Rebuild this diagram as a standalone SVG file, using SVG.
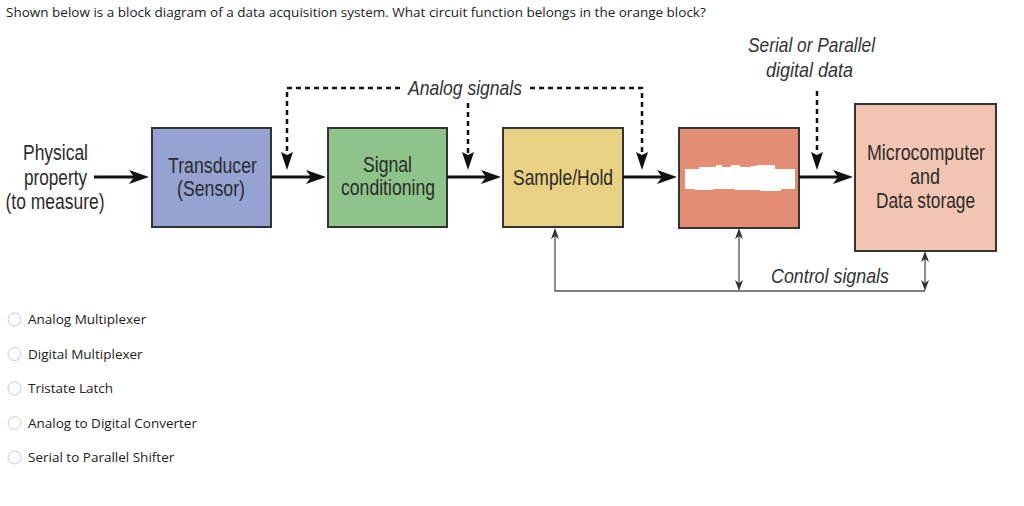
<svg xmlns="http://www.w3.org/2000/svg" width="1024" height="506" viewBox="0 0 1024 506">
<style>
.q{font-family:"Open Sans","Liberation Sans",sans-serif;font-size:13.5px;fill:#222}
.t{font-family:"Liberation Sans",Arial,sans-serif;font-size:22.5px;fill:#2b2b2b}
.it{font-family:"Liberation Sans",Arial,sans-serif;font-size:21px;font-style:italic;fill:#333}
.box{stroke:#333;stroke-width:2}
.main{stroke:#111;stroke-width:3;fill:none}
.dash{stroke:#111;stroke-width:2.5;stroke-dasharray:5 4;fill:none}
.ctl{stroke:#555;stroke-width:1.3;fill:none}
.radio{fill:#fff;stroke:#ccc;stroke-width:1}
</style>
<defs>
<marker id="big" markerUnits="userSpaceOnUse" markerWidth="20" markerHeight="14" viewBox="0 0 20 14" refX="11" refY="7" orient="auto"><path d="M0,0 L20,7 L0,14 L5,7 z" fill="#111"/></marker>
</defs>
<rect width="1024" height="506" fill="#fff"/>
<text class="q" x="6" y="17">Shown below is a block diagram of a data acquisition system. What circuit function belongs in the orange block?</text>

<g id="input-label">
<text class="t" x="55.5" y="160" text-anchor="middle" textLength="65" lengthAdjust="spacingAndGlyphs">Physical</text>
<text class="t" x="55.5" y="185" text-anchor="middle" textLength="63" lengthAdjust="spacingAndGlyphs">property</text>
<text class="t" x="55" y="209" text-anchor="middle" textLength="99" lengthAdjust="spacingAndGlyphs">(to measure)</text>
</g>

<g id="transducer">
<rect class="box" x="152" y="128" width="119" height="99" fill="#94a3d1"/>
<text class="t" x="212.5" y="173" text-anchor="middle" textLength="89" lengthAdjust="spacingAndGlyphs" fill="#262c4a">Transducer</text>
<text class="t" x="211" y="196" text-anchor="middle" textLength="68" lengthAdjust="spacingAndGlyphs" fill="#262c4a">(Sensor)</text>
</g>

<g id="signal-conditioning">
<rect class="box" x="328" y="128" width="119" height="99" fill="#8ec48a"/>
<text class="t" x="387.5" y="172" text-anchor="middle" textLength="49" lengthAdjust="spacingAndGlyphs" fill="#1e3a1e">Signal</text>
<text class="t" x="388" y="195" text-anchor="middle" textLength="94" lengthAdjust="spacingAndGlyphs" fill="#1e3a1e">conditioning</text>
</g>

<g id="sample-hold">
<rect class="box" x="503" y="128" width="120" height="99" fill="#e9d184"/>
<text class="t" x="563" y="185" text-anchor="middle" textLength="100" lengthAdjust="spacingAndGlyphs" fill="#3a2e14">Sample/Hold</text>
</g>

<g id="orange-block">
<rect class="box" x="679" y="128" width="120" height="100" fill="#e48d75"/>
<path d="M685,169 L699,169 L699,167 L716,167 L716,165 L722,165 L722,167 L731,167 L731,165 L740,165 L740,167 L751,167 L751,166 L757,166 L757,165 L775,165 L775,169 L795,169 L795,189 L781,189 L781,191 L760,191 L760,190 L735,190 L735,189 L713,189 L713,190 L695,190 L695,189 L685,189 z" fill="#fff"/>
</g>

<g id="microcomputer">
<rect class="box" x="855" y="104" width="141" height="147" fill="#f2c5b3"/>
<text class="t" x="926" y="160" text-anchor="middle" textLength="118" lengthAdjust="spacingAndGlyphs" fill="#2e1f1a">Microcomputer</text>
<text class="t" x="925" y="184" text-anchor="middle" textLength="30" lengthAdjust="spacingAndGlyphs" fill="#2e1f1a">and</text>
<text class="t" x="925.5" y="208" text-anchor="middle" textLength="99" lengthAdjust="spacingAndGlyphs" fill="#2e1f1a">Data storage</text>
</g>

<g id="labels">
<text class="it" x="465" y="95" text-anchor="middle" textLength="114" lengthAdjust="spacingAndGlyphs">Analog signals</text>
<text class="it" x="811.5" y="52" text-anchor="middle" textLength="127" lengthAdjust="spacingAndGlyphs">Serial or Parallel</text>
<text class="it" x="809.5" y="77" text-anchor="middle" textLength="87" lengthAdjust="spacingAndGlyphs">digital data</text>
<text class="it" x="830" y="283" text-anchor="middle" textLength="118" lengthAdjust="spacingAndGlyphs">Control signals</text>
</g>

<g id="connectors">
<line class="main" x1="94" y1="177" x2="140" y2="177" marker-end="url(#big)"/>
<line class="main" x1="271" y1="177" x2="317" y2="177" marker-end="url(#big)"/>
<line class="main" x1="447" y1="177" x2="492" y2="177" marker-end="url(#big)"/>
<line class="main" x1="623" y1="177" x2="668" y2="177" marker-end="url(#big)"/>
<line class="main" x1="799" y1="177" x2="844" y2="177" marker-end="url(#big)"/>

<polyline class="dash" points="400,88 287,88 287,154"/>
<polyline class="dash" points="530,88 642,88 642,154"/>
<line class="dash" x1="468" y1="103" x2="468" y2="154"/>
<line class="dash" x1="817" y1="91" x2="817" y2="154"/>
<path d="M281,152 L287,155 L293,152 L287,170 z" fill="#111"/>
<path d="M462,152 L468,155 L474,152 L468,170 z" fill="#111"/>
<path d="M636,152 L642,155 L648,152 L642,170 z" fill="#111"/>
<path d="M811,152 L817,155 L823,152 L817,170 z" fill="#111"/>

<polyline class="ctl" points="555,236 555,291 925,291"/>
<path d="M551,239 L555,228 L559,239 L555,236 z" fill="#333"/>
<line class="ctl" x1="739" y1="236" x2="739" y2="283"/>
<path d="M735,239 L739,228 L743,239 L739,236 z" fill="#333"/>
<path d="M735,280 L739,291 L743,280 L739,283 z" fill="#333"/>
<line class="ctl" x1="925" y1="259" x2="925" y2="283"/>
<path d="M921,262 L925,251 L929,262 L925,259 z" fill="#333"/>
<path d="M921,280 L925,291 L929,280 L925,283 z" fill="#333"/>
</g>

<g id="options">
<circle class="radio" cx="14.5" cy="319.5" r="6.5"/>
<text class="q" x="28" y="324">Analog Multiplexer</text>
<circle class="radio" cx="14.5" cy="354" r="6.5"/>
<text class="q" x="28" y="358.5">Digital Multiplexer</text>
<circle class="radio" cx="14.5" cy="388.5" r="6.5"/>
<text class="q" x="28" y="393">Tristate Latch</text>
<circle class="radio" cx="14.5" cy="423" r="6.5"/>
<text class="q" x="28" y="427.5">Analog to Digital Converter</text>
<circle class="radio" cx="14.5" cy="457.5" r="6.5"/>
<text class="q" x="28" y="462">Serial to Parallel Shifter</text>
</g>
</svg>
